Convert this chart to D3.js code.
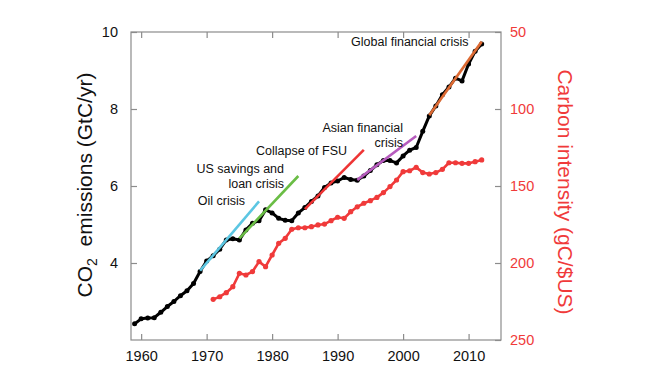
<!DOCTYPE html>
<html>
<head>
<meta charset="utf-8">
<script src="https://cdn.jsdelivr.net/npm/d3@7"></script>
<style>
  html, body { margin: 0; padding: 0; background: #fff; }
  svg { display: block; font-family: "Liberation Sans", Arial, sans-serif; }
</style>
</head>
<body>
<svg id="chart" width="653" height="392"></svg>
<script>
// ---------- DATA ----------
const emissionYears = [1959,1960,1961,1962,1963,1964,1965,1966,1967,1968,1969,
  1970,1971,1972,1973,1974,1975,1976,1977,1978,1979,
  1980,1981,1982,1983,1984,1985,1986,1987,1988,1989,
  1990,1991,1992,1993,1994,1995,1996,1997,1998,1999,
  2000,2001,2002,2003,2004,2005,2006,2007,2008,2009,
  2010,2011,2012];
const emissions = [2.42,2.55,2.57,2.58,2.72,2.87,3.00,3.15,3.28,3.47,3.78,
  4.05,4.19,4.36,4.60,4.63,4.60,4.86,5.03,5.10,5.38,
  5.30,5.16,5.11,5.10,5.30,5.44,5.60,5.74,5.96,6.08,
  6.13,6.22,6.17,6.15,6.26,6.40,6.55,6.66,6.66,6.60,
  6.78,6.93,7.00,7.42,7.82,8.08,8.37,8.57,8.80,8.73,
  9.17,9.50,9.69];

const intensityYears = [1971,1972,1973,1974,1975,1976,1977,1978,1979,
  1980,1981,1982,1983,1984,1985,1986,1987,1988,1989,
  1990,1991,1992,1993,1994,1995,1996,1997,1998,1999,
  2000,2001,2002,2003,2004,2005,2006,2007,2008,2009,
  2010,2011,2012];
const intensity = [223.6,221.9,219.3,215.4,206.7,207.8,205.6,199.1,202.4,
  194.8,187.2,184.0,178.1,177.1,177.1,176.4,175.3,174.7,172.5,
  170.3,171.0,166.7,163.5,161.2,159.5,157.4,154.3,150.4,146.1,
  140.7,140.1,137.9,141.3,142.2,141.3,139.2,134.9,134.9,135.3,
  135.3,134.2,133.1];

// Crisis trend lines: name, start year, start value, end year, end value
const crisisNames = ["Oil crisis","US savings and loan crisis","Collapse of FSU","Asian financial crisis","Global financial crisis"];
const crisisStartYear = [1969,1975,1985,1993,2004];
const crisisStartValue = [3.80,4.64,5.40,6.16,7.84];
const crisisEndYear = [1978,1984,1994,2002,2012];
const crisisEndValue = [5.60,6.26,6.94,7.30,9.75];

const xTicks = [1960,1970,1980,1990,2000,2010];
const leftTicks = [4,6,8,10];
const rightTicks = [50,100,150,200,250];

// ---------- LAYOUT / STYLE ----------
const svg = d3.select("#chart");
const plot = {left:131, right:501, top:32, bottom:340};
const frameColor = "#8c8c8c";
const redColor = "#f03a3a";
const crisisColors = ["#5cc6e2","#6abd45","#ee3434","#b65bbd","#dd6a33"];
const crisisLabels = [
  {lines:["Oil crisis"], x:245, y:205},
  {lines:["US savings and","loan crisis"], x:284, y:173},
  {lines:["Collapse of FSU"], x:347, y:154.5},
  {lines:["Asian financial","crisis"], x:403, y:132},
  {lines:["Global financial crisis"], x:468.5, y:45.5}
];

const x = d3.scaleLinear().domain([1958.45, 2014.95]).range([plot.left, plot.right]);
const yL = d3.scaleLinear().domain([2, 10]).range([plot.bottom, plot.top]);
const yR = d3.scaleLinear().domain([250, 50]).range([plot.bottom, plot.top]);

// frame
svg.append("rect")
  .attr("x", plot.left).attr("y", plot.top)
  .attr("width", plot.right - plot.left).attr("height", plot.bottom - plot.top)
  .attr("fill", "none").attr("stroke", frameColor).attr("stroke-width", 1.2);

const tickLen = 6;
// bottom axis (ticks inside)
const bottomAxis = svg.append("g").attr("transform", `translate(0,${plot.bottom})`)
  .call(d3.axisBottom(x).tickValues(xTicks).tickFormat(d3.format("d")).tickSizeInner(-tickLen).tickSizeOuter(0).tickPadding(tickLen + 5));
// top ticks (no labels)
const topAxis = svg.append("g").attr("transform", `translate(0,${plot.top})`)
  .call(d3.axisTop(x).tickValues(xTicks).tickFormat("").tickSizeInner(-tickLen).tickSizeOuter(0));
// left axis
const leftAxis = svg.append("g").attr("transform", `translate(${plot.left},0)`)
  .call(d3.axisLeft(yL).tickValues(leftTicks).tickFormat(d3.format("d")).tickSizeInner(-tickLen).tickSizeOuter(0).tickPadding(tickLen + 7));
// right axis
const rightAxis = svg.append("g").attr("transform", `translate(${plot.right},0)`)
  .call(d3.axisRight(yR).tickValues(rightTicks).tickFormat(d3.format("d")).tickSizeInner(-tickLen).tickSizeOuter(0).tickPadding(tickLen + 3));

[bottomAxis, topAxis, leftAxis, rightAxis].forEach(g => {
  g.select(".domain").remove();
  g.selectAll(".tick line").attr("stroke", frameColor).attr("stroke-width", 1.2);
  g.selectAll(".tick text").attr("font-size", 14.5).attr("font-family", "'Liberation Sans', Arial, sans-serif");
});
bottomAxis.selectAll(".tick text").attr("fill", "#111");
leftAxis.selectAll(".tick text").attr("fill", "#111");
rightAxis.selectAll(".tick text").attr("fill", redColor);

// axis titles
const lt = svg.append("text")
  .attr("transform", `translate(92,185) rotate(-90)`)
  .attr("text-anchor", "middle").attr("font-size", 21).attr("fill", "#111");
lt.append("tspan").text("CO");
lt.append("tspan").text("2").attr("font-size", 14).attr("dy", 5);
lt.append("tspan").text("\u00a0 emissions (GtC/yr)").attr("dy", -5);

svg.append("text")
  .attr("transform", `translate(558,192) rotate(90)`)
  .attr("text-anchor", "middle").attr("font-size", 21).attr("fill", redColor)
  .text("Carbon intensity (gC/$US)");

// red carbon intensity series
const redData = intensityYears.map((yr, i) => ({yr, v: intensity[i]}));
svg.append("path").datum(redData)
  .attr("fill", "none").attr("stroke", redColor).attr("stroke-width", 2.6)
  .attr("stroke-linejoin", "round")
  .attr("d", d3.line().x(d => x(d.yr)).y(d => yR(d.v)));
svg.append("g").selectAll("circle").data(redData).join("circle")
  .attr("cx", d => x(d.yr)).attr("cy", d => yR(d.v)).attr("r", 2.6).attr("fill", redColor);

// black emissions series
const blackData = emissionYears.map((yr, i) => ({yr, v: emissions[i]}));
svg.append("path").datum(blackData)
  .attr("fill", "none").attr("stroke", "#000").attr("stroke-width", 3)
  .attr("stroke-linejoin", "round")
  .attr("d", d3.line().x(d => x(d.yr)).y(d => yL(d.v)));
svg.append("g").selectAll("circle").data(blackData).join("circle")
  .attr("cx", d => x(d.yr)).attr("cy", d => yL(d.v)).attr("r", 2.5).attr("fill", "#000");

// crisis trend lines
crisisNames.forEach((name, i) => {
  svg.append("line")
    .attr("x1", x(crisisStartYear[i])).attr("y1", yL(crisisStartValue[i]))
    .attr("x2", x(crisisEndYear[i])).attr("y2", yL(crisisEndValue[i]))
    .attr("stroke", crisisColors[i]).attr("stroke-width", 2.6);
  const lab = crisisLabels[i];
  const t = svg.append("text").attr("font-size", 12.5).attr("fill", "#111").attr("text-anchor", "end");
  lab.lines.forEach((ln, j) => {
    t.append("tspan").attr("x", lab.x).attr("y", lab.y + j * 14.5).text(ln);
  });
});
</script>
</body>
</html>
